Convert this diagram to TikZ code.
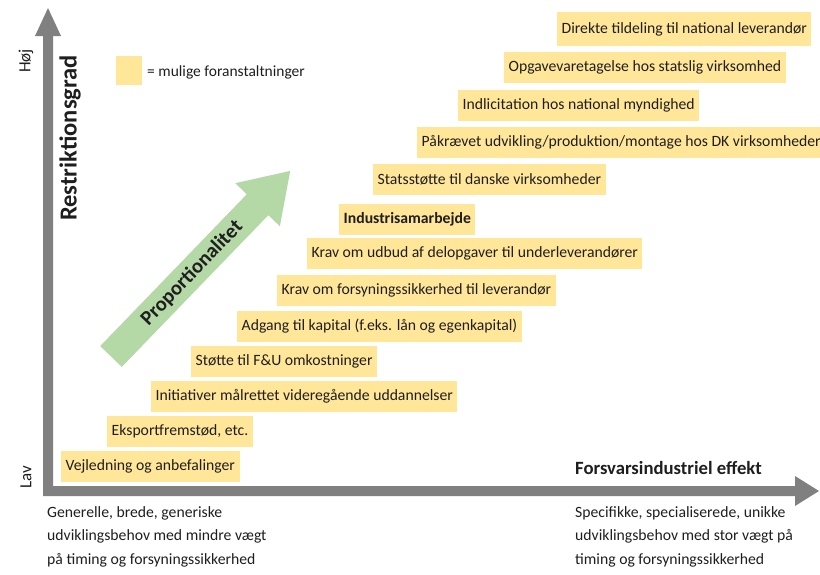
\documentclass[tikz,border=0pt]{standalone}
\usepackage{fontspec}
\setmainfont{Carlito}
\usetikzlibrary{calc}
\definecolor{boxy}{HTML}{FFE699}
\definecolor{axg}{HTML}{808080}
\definecolor{grn}{HTML}{B5D8A7}
\definecolor{txt}{HTML}{1E1E1E}
\begin{document}
\begin{tikzpicture}[x=1pt,y=-1pt,
  mbox/.style={fill=boxy, anchor=west, minimum height=31pt, inner xsep=4.5pt, inner ysep=0pt, text=txt, font=\fontsize{15.7}{18}\selectfont},
  plain/.style={text=txt, inner sep=0pt, font=\fontsize{15.5}{18}\selectfont},
  boldlbl/.style={text=txt, inner sep=0pt, font=\fontsize{18.7}{22}\selectfont\bfseries},
  desc/.style={text=txt, inner sep=0pt, anchor=north west, align=left, font=\fontsize{15.7}{23.5}\selectfont}]
\useasboundingbox (0,0) rectangle (820,574);

% axes
\coordinate (O) at (48,491);
\fill[axg] (35,36) -- (48,8) -- (61,36) -- (53,36) -- (53,486) -- (795,486) -- (795,476)
  -- (819,491) -- (795,506) -- (795,496) -- (43,496) -- (43,36) -- cycle;

\node[plain, rotate=90, font=\fontsize{17}{20}\selectfont] (hoj) at (26,61) {Høj};
\node[plain, rotate=90, font=\fontsize{17}{20}\selectfont] (lav) at (26,477) {Lav};
\node[boldlbl, rotate=90, font=\fontsize{24.5}{28}\selectfont\bfseries] (restr) at (70,138) {Restriktionsgrad};

% legend
\node[fill=boxy, minimum width=26pt, minimum height=29pt, inner sep=0pt, anchor=north west] (leg) at (116,56) {};
\node[plain, anchor=west] (legtxt) at (147,72) {= mulige foranstaltninger};

% green arrow
\coordinate (gtail) at (111,356.5);
\coordinate (gtip) at (291,171);
\begin{scope}[shift={(gtail)}, rotate=46]
  \fill[grn] (0,-15) -- (211,-15) -- (211,-31) -- (258,0) -- (211,31) -- (211,15) -- (0,15) -- cycle;
\end{scope}
\node[boldlbl, rotate=46, font=\fontsize{20.5}{24}\selectfont\bfseries] (prop) at ($(gtail)!0.45!(gtip)$) {Proportionalitet};

% measures
\node[mbox, minimum height=34pt] (b1) at (557,29) {Direkte tildeling til national leverandør};
\node[mbox] (b2) at (504,67.5) {Opgavevaretagelse hos statslig virksomhed};
\node[mbox] (b3) at (458,105.5) {Indlicitation hos national myndighed};
\node[mbox] (b4) at (417,142) {Påkrævet udvikling/produktion/montage hos DK virksomheder};
\node[mbox] (b5) at (373,179) {Statsstøtte til danske virksomheder};
\node[mbox, font=\fontsize{15.7}{18}\selectfont\bfseries] (b6) at (339,219) {Industrisamarbejde};
\node[mbox] (b7) at (307,253) {Krav om udbud af delopgaver til underleverandører};
\node[mbox] (b8) at (277,290) {Krav om forsyningssikkerhed til leverandør};
\node[mbox] (b9) at (237,326) {Adgang til kapital (f.eks. lån og egenkapital)};
\node[mbox] (b10) at (191,361) {Støtte til F\&U omkostninger};
\node[mbox] (b11) at (151,396.5) {Initiativer målrettet videregående uddannelser};
\node[mbox] (b12) at (107,431) {Eksportfremstød, etc.};
\node[mbox] (b13) at (61,466) {Vejledning og anbefalinger};

% x axis label and descriptions
\node[boldlbl, anchor=west] (xlbl) at (575,468) {Forsvarsindustriel effekt};
\node[desc] (dl) at (47,506) {Generelle, brede, generiske\\udviklingsbehov med mindre vægt\\på timing og forsyningssikkerhed};
\node[desc] (dr) at (575,506) {Specifikke, specialiserede, unikke\\udviklingsbehov med stor vægt på\\timing og forsyningssikkerhed};
\end{tikzpicture}
\end{document}
